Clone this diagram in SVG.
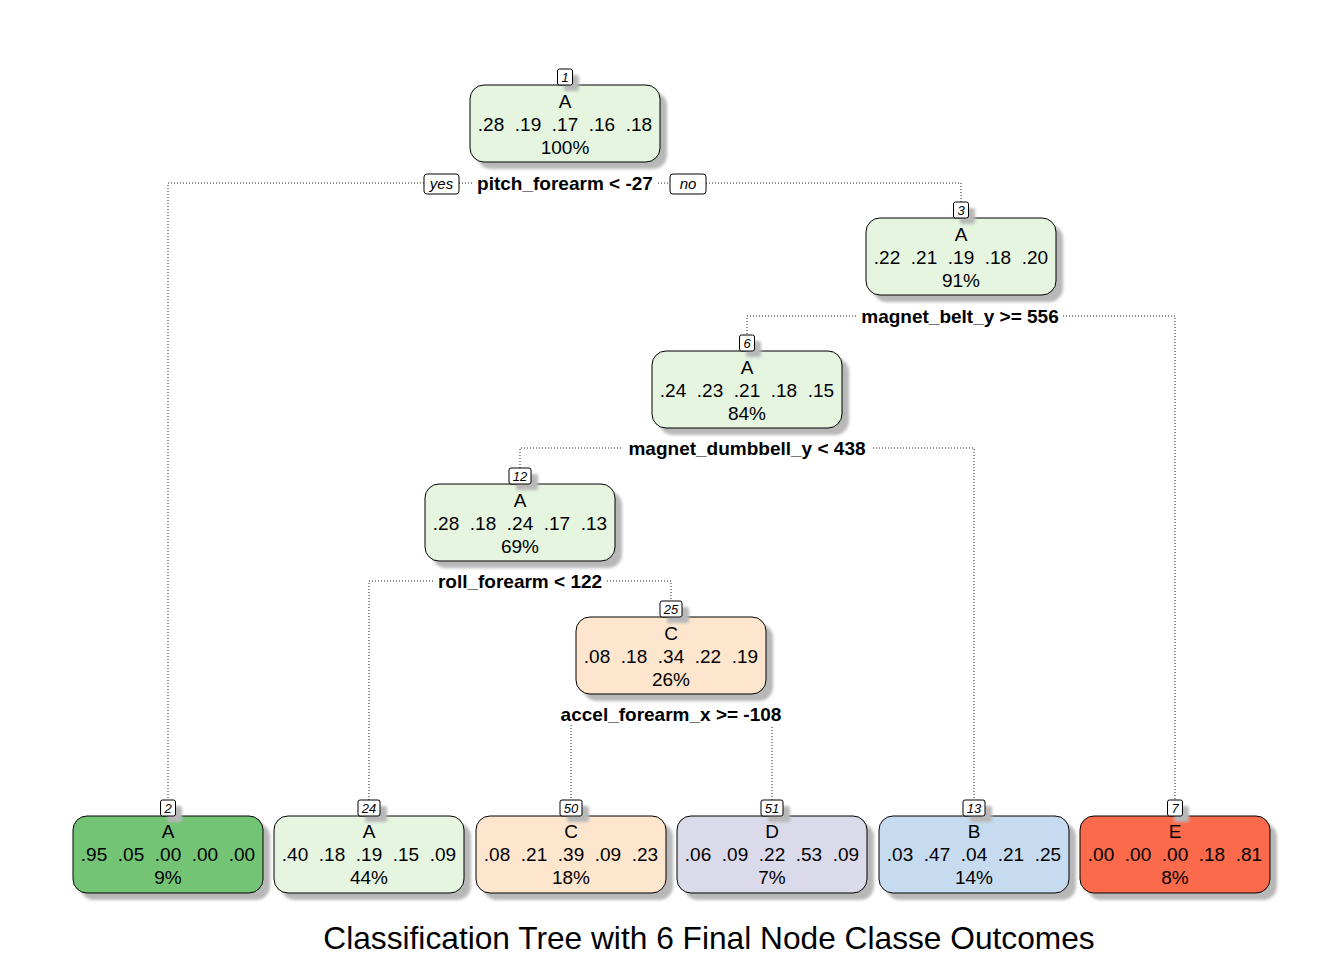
<svg xmlns="http://www.w3.org/2000/svg" width="1344" height="960" viewBox="0 0 1344 960">
<style>
.bg{fill:#ffffff}
.box{stroke:#000;stroke-width:1}
.shadow{fill:#b8b8b8}
.nt{font-family:"Liberation Sans",Arial,sans-serif;font-size:19px;text-anchor:middle;fill:#000;white-space:pre}
.num{font-family:"Liberation Sans",Arial,sans-serif;font-size:13px;font-style:italic;text-anchor:middle;fill:#000}
.nb{fill:#fff;stroke:#000;stroke-width:1}
.split{font-family:"Liberation Sans",Arial,sans-serif;font-size:19px;font-weight:bold;text-anchor:middle;fill:#000}
.yn{font-family:"Liberation Sans",Arial,sans-serif;font-size:15px;font-style:italic;text-anchor:middle;fill:#000}
.edge{fill:none;stroke:#222;stroke-width:1;stroke-dasharray:1 2}
.title{font-family:"Liberation Sans",Arial,sans-serif;font-size:31.7px;text-anchor:middle;fill:#000}
.gA{fill:#E5F5E0}.gA2{fill:#74C476}.gC{fill:#FEE6CE}.gD{fill:#DADAEB}.gB{fill:#C6DBEF}.gE{fill:#FB6A4A}
</style>
<defs>
<filter id="blur" x="-10%" y="-10%" width="130%" height="140%"><feGaussianBlur stdDeviation="1.5"/></filter>
</defs>
<rect class="bg" x="0" y="0" width="1344" height="960"/>

<g id="connectors">
<path class="edge" d="M565,183 H168 V800"/>
<path class="edge" d="M565,183 H961 V202"/>
<path class="edge" d="M961,316 H747 V335"/>
<path class="edge" d="M961,316 H1175 V800"/>
<path class="edge" d="M747,448 H520 V468"/>
<path class="edge" d="M747,448 H974 V800"/>
<path class="edge" d="M520,581 H369 V800"/>
<path class="edge" d="M520,581 H671 V601"/>
<path class="edge" d="M671,714 H571 V800"/>
<path class="edge" d="M671,714 H772 V800"/>
<g id="yesno">
<rect class="nb" x="424" y="174" width="35" height="20" rx="3"/>
<text class="yn" x="441.5" y="189">yes</text>
<rect class="nb" x="670" y="174" width="36" height="20" rx="3"/>
<text class="yn" x="688" y="189">no</text>
</g>
</g>

<g id="split-labels">
<rect class="bg" x="472" y="172" width="186" height="22"/>
<text class="split" x="565" y="189.5">pitch_forearm &lt; -27</text>
<rect class="bg" x="857" y="305" width="206" height="22"/>
<text class="split" x="960" y="322.5">magnet_belt_y &gt;= 556</text>
<rect class="bg" x="623" y="437" width="248" height="22"/>
<text class="split" x="747" y="454.5">magnet_dumbbell_y &lt; 438</text>
<rect class="bg" x="434" y="570" width="173" height="22"/>
<text class="split" x="520" y="587.5">roll_forearm &lt; 122</text>
<rect class="bg" x="555" y="703" width="232" height="22"/>
<text class="split" x="671" y="720.5">accel_forearm_x &gt;= -108</text>
</g>

<g id="node1">
<rect class="shadow" filter="url(#blur)" x="477" y="92" width="190" height="77" rx="14"/>
<rect class="gA box" x="470" y="85" width="190" height="77" rx="14"/>
<rect class="shadow" filter="url(#blur)" x="564" y="75" width="15" height="16" rx="2"/>
<rect class="nb" x="557.5" y="69" width="15" height="16" rx="2"/>
<text class="num" x="565" y="82">1</text>
<text class="nt" x="565" y="108">A</text>
<text class="nt" x="565" y="131" xml:space="preserve">.28  .19  .17  .16  .18</text>
<text class="nt" x="565" y="154">100%</text>
</g>

<g id="node3">
<rect class="shadow" filter="url(#blur)" x="873" y="225" width="190" height="77" rx="14"/>
<rect class="gA box" x="866" y="218" width="190" height="77" rx="14"/>
<rect class="shadow" filter="url(#blur)" x="960" y="208" width="15" height="16" rx="2"/>
<rect class="nb" x="953.5" y="202" width="15" height="16" rx="2"/>
<text class="num" x="961" y="215">3</text>
<text class="nt" x="961" y="241">A</text>
<text class="nt" x="961" y="264" xml:space="preserve">.22  .21  .19  .18  .20</text>
<text class="nt" x="961" y="287">91%</text>
</g>

<g id="node6">
<rect class="shadow" filter="url(#blur)" x="659" y="358" width="190" height="77" rx="14"/>
<rect class="gA box" x="652" y="351" width="190" height="77" rx="14"/>
<rect class="shadow" filter="url(#blur)" x="746" y="341" width="15" height="16" rx="2"/>
<rect class="nb" x="739.5" y="335" width="15" height="16" rx="2"/>
<text class="num" x="747" y="348">6</text>
<text class="nt" x="747" y="374">A</text>
<text class="nt" x="747" y="397" xml:space="preserve">.24  .23  .21  .18  .15</text>
<text class="nt" x="747" y="420">84%</text>
</g>

<g id="node12">
<rect class="shadow" filter="url(#blur)" x="432" y="491" width="190" height="77" rx="14"/>
<rect class="gA box" x="425" y="484" width="190" height="77" rx="14"/>
<rect class="shadow" filter="url(#blur)" x="516" y="474" width="22" height="16" rx="2"/>
<rect class="nb" x="509" y="468" width="22" height="16" rx="2"/>
<text class="num" x="520" y="481">12</text>
<text class="nt" x="520" y="507">A</text>
<text class="nt" x="520" y="530" xml:space="preserve">.28  .18  .24  .17  .13</text>
<text class="nt" x="520" y="553">69%</text>
</g>

<g id="node25">
<rect class="shadow" filter="url(#blur)" x="583" y="624" width="190" height="77" rx="14"/>
<rect class="gC box" x="576" y="617" width="190" height="77" rx="14"/>
<rect class="shadow" filter="url(#blur)" x="667" y="607" width="22" height="16" rx="2"/>
<rect class="nb" x="660" y="601" width="22" height="16" rx="2"/>
<text class="num" x="671" y="614">25</text>
<text class="nt" x="671" y="640">C</text>
<text class="nt" x="671" y="663" xml:space="preserve">.08  .18  .34  .22  .19</text>
<text class="nt" x="671" y="686">26%</text>
</g>

<g id="node2">
<rect class="shadow" filter="url(#blur)" x="80" y="823" width="190" height="77" rx="14"/>
<rect class="gA2 box" x="73" y="816" width="190" height="77" rx="14"/>
<rect class="shadow" filter="url(#blur)" x="167" y="806" width="15" height="16" rx="2"/>
<rect class="nb" x="160.5" y="800" width="15" height="16" rx="2"/>
<text class="num" x="168" y="813">2</text>
<text class="nt" x="168" y="838">A</text>
<text class="nt" x="168" y="861" xml:space="preserve">.95  .05  .00  .00  .00</text>
<text class="nt" x="168" y="884">9%</text>
</g>

<g id="node24">
<rect class="shadow" filter="url(#blur)" x="281" y="823" width="190" height="77" rx="14"/>
<rect class="gA box" x="274" y="816" width="190" height="77" rx="14"/>
<rect class="shadow" filter="url(#blur)" x="365" y="806" width="22" height="16" rx="2"/>
<rect class="nb" x="358" y="800" width="22" height="16" rx="2"/>
<text class="num" x="369" y="813">24</text>
<text class="nt" x="369" y="838">A</text>
<text class="nt" x="369" y="861" xml:space="preserve">.40  .18  .19  .15  .09</text>
<text class="nt" x="369" y="884">44%</text>
</g>

<g id="node50">
<rect class="shadow" filter="url(#blur)" x="483" y="823" width="190" height="77" rx="14"/>
<rect class="gC box" x="476" y="816" width="190" height="77" rx="14"/>
<rect class="shadow" filter="url(#blur)" x="567" y="806" width="22" height="16" rx="2"/>
<rect class="nb" x="560" y="800" width="22" height="16" rx="2"/>
<text class="num" x="571" y="813">50</text>
<text class="nt" x="571" y="838">C</text>
<text class="nt" x="571" y="861" xml:space="preserve">.08  .21  .39  .09  .23</text>
<text class="nt" x="571" y="884">18%</text>
</g>

<g id="node51">
<rect class="shadow" filter="url(#blur)" x="684" y="823" width="190" height="77" rx="14"/>
<rect class="gD box" x="677" y="816" width="190" height="77" rx="14"/>
<rect class="shadow" filter="url(#blur)" x="768" y="806" width="22" height="16" rx="2"/>
<rect class="nb" x="761" y="800" width="22" height="16" rx="2"/>
<text class="num" x="772" y="813">51</text>
<text class="nt" x="772" y="838">D</text>
<text class="nt" x="772" y="861" xml:space="preserve">.06  .09  .22  .53  .09</text>
<text class="nt" x="772" y="884">7%</text>
</g>

<g id="node13">
<rect class="shadow" filter="url(#blur)" x="886" y="823" width="190" height="77" rx="14"/>
<rect class="gB box" x="879" y="816" width="190" height="77" rx="14"/>
<rect class="shadow" filter="url(#blur)" x="970" y="806" width="22" height="16" rx="2"/>
<rect class="nb" x="963" y="800" width="22" height="16" rx="2"/>
<text class="num" x="974" y="813">13</text>
<text class="nt" x="974" y="838">B</text>
<text class="nt" x="974" y="861" xml:space="preserve">.03  .47  .04  .21  .25</text>
<text class="nt" x="974" y="884">14%</text>
</g>

<g id="node7">
<rect class="shadow" filter="url(#blur)" x="1087" y="823" width="190" height="77" rx="14"/>
<rect class="gE box" x="1080" y="816" width="190" height="77" rx="14"/>
<rect class="shadow" filter="url(#blur)" x="1174" y="806" width="15" height="16" rx="2"/>
<rect class="nb" x="1167.5" y="800" width="15" height="16" rx="2"/>
<text class="num" x="1175" y="813">7</text>
<text class="nt" x="1175" y="838">E</text>
<text class="nt" x="1175" y="861" xml:space="preserve">.00  .00  .00  .18  .81</text>
<text class="nt" x="1175" y="884">8%</text>
</g>

<text class="title" x="709" y="949">Classification Tree with 6 Final Node Classe Outcomes</text>
</svg>
